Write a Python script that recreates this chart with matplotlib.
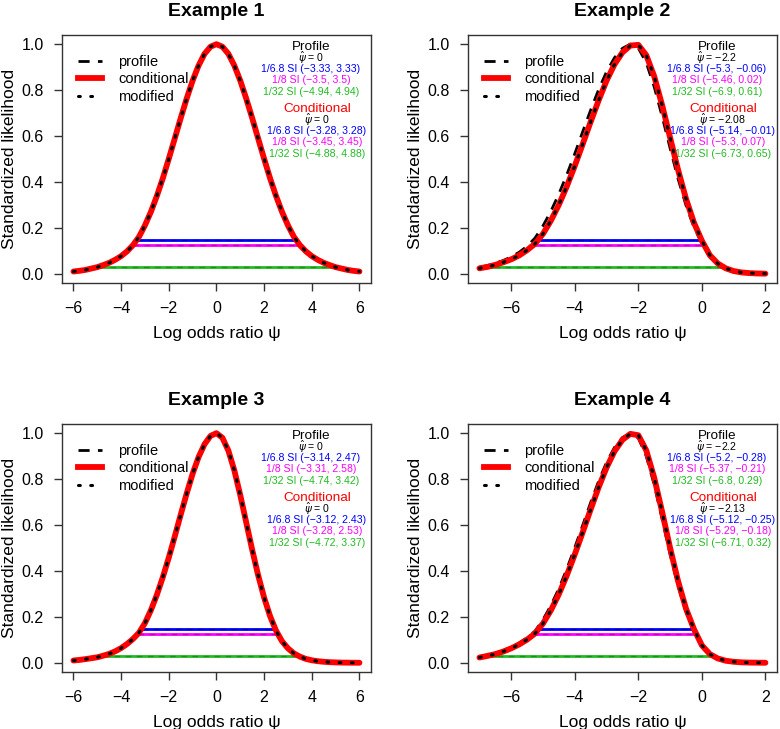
import numpy as np
import matplotlib
matplotlib.use("Agg")
import matplotlib.pyplot as plt
from matplotlib.lines import Line2D

plt.rcParams['font.family'] = ['Liberation Sans', 'DejaVu Sans']

# x grids the curves were read on (step 0.25)
x_sym = np.arange(-6, 6.001, 0.25)
x_neg = np.arange(-7, 2.001, 0.25)

# Example 1 (profile, conditional and modified coincide)
lik1 = [0.010, 0.013, 0.017, 0.023, 0.029, 0.038, 0.048, 0.061, 0.077, 0.098, 0.125, 0.161,
        0.211, 0.270, 0.339, 0.416, 0.501, 0.589, 0.678, 0.763, 0.841, 0.907, 0.958, 0.989,
        1.000,
        0.989, 0.958, 0.907, 0.841, 0.763, 0.678, 0.589, 0.501, 0.416, 0.339, 0.270, 0.211,
        0.161, 0.125, 0.098, 0.077, 0.061, 0.048, 0.038, 0.029, 0.023, 0.017, 0.013, 0.010]

# Example 2
prof2 = [0.028, 0.036, 0.046, 0.058, 0.074, 0.094, 0.120, 0.156, 0.209, 0.273, 0.348, 0.432,
         0.523, 0.619, 0.713, 0.802, 0.880, 0.941, 0.982, 1.000,
         0.983, 0.919, 0.814, 0.685, 0.547, 0.414, 0.298, 0.203, 0.132, 0.073, 0.040, 0.022,
         0.012, 0.006, 0.003, 0.0015, 0.0007]
cond2 = [0.024, 0.030, 0.039, 0.050, 0.063, 0.080, 0.103, 0.131, 0.174, 0.232, 0.301, 0.381,
         0.470, 0.565, 0.662, 0.755, 0.841, 0.912, 0.964, 0.994,
         0.997, 0.952, 0.860, 0.734, 0.593, 0.453, 0.327, 0.223, 0.144, 0.081, 0.045, 0.024,
         0.012, 0.006, 0.003, 0.0015, 0.0007]
mod2 = cond2

# Example 3
lik3 = [0.010, 0.0125, 0.016, 0.020, 0.024, 0.031, 0.039, 0.050, 0.064, 0.082, 0.104, 0.131,
        0.173, 0.229, 0.296, 0.373, 0.458, 0.550, 0.645, 0.737, 0.823, 0.896, 0.952, 0.988,
        1.000,
        0.980, 0.924, 0.838, 0.730, 0.611, 0.492, 0.381, 0.284, 0.203, 0.140, 0.094, 0.063,
        0.041, 0.027, 0.017, 0.011, 0.007, 0.0045, 0.0027, 0.0017, 0.0010, 0.0006, 0.0004, 0.0002]

# Example 4
prof4 = [0.026, 0.033, 0.042, 0.053, 0.068, 0.086, 0.110, 0.138, 0.188, 0.250, 0.324, 0.409,
         0.502, 0.599, 0.698, 0.791, 0.873, 0.938, 0.981, 0.999,
         0.979, 0.900, 0.775, 0.625, 0.472, 0.334, 0.222, 0.135, 0.070, 0.035, 0.017, 0.008,
         0.004, 0.002, 0.001, 0.0005, 0.0002]
cond4 = [0.023, 0.030, 0.038, 0.049, 0.063, 0.080, 0.101, 0.128, 0.171, 0.229, 0.299, 0.381,
         0.472, 0.569, 0.668, 0.764, 0.850, 0.921, 0.971, 0.997,
         0.991, 0.925, 0.806, 0.657, 0.500, 0.356, 0.236, 0.147, 0.076, 0.038, 0.019, 0.009,
         0.0045, 0.002, 0.001, 0.0005, 0.0002]
mod4 = cond4

# support intervals (1/6.8, 1/8, 1/32) and MLEs
si_levels = [1 / 6.8, 1 / 8, 1 / 32]
si_names = ['1/6.8', '1/8', '1/32']
si_colors = ['#0000ff', '#ff00ff', '#22bb22']
si_dark = ['#000080', '#800080', '#116611']

titles = ['Example 1', 'Example 2', 'Example 3', 'Example 4']
prof_mle = ['0', '\u22122.2', '0', '\u22122.2']
cond_mle = ['0', '\u22122.08', '0', '\u22122.13']
prof_si = [[(-3.33, 3.33), (-3.5, 3.5), (-4.94, 4.94)],
           [(-5.3, -0.06), (-5.46, 0.02), (-6.9, 0.61)],
           [(-3.14, 2.47), (-3.31, 2.58), (-4.74, 3.42)],
           [(-5.2, -0.28), (-5.37, -0.21), (-6.8, 0.29)]]
cond_si = [[(-3.28, 3.28), (-3.45, 3.45), (-4.88, 4.88)],
           [(-5.14, -0.01), (-5.3, 0.07), (-6.73, 0.65)],
           [(-3.12, 2.43), (-3.28, 2.53), (-4.72, 3.37)],
           [(-5.12, -0.25), (-5.29, -0.18), (-6.71, 0.32)]]

xs = [x_sym, x_neg, x_sym, x_neg]
profs = [lik1, prof2, lik3, prof4]
conds = [lik1, cond2, lik3, cond4]
mods = [lik1, mod2, lik3, mod4]
xlims = [(-6.48, 6.48), (-7.36, 2.36), (-6.48, 6.48), (-7.36, 2.36)]
xticks = [[-6, -4, -2, 0, 2, 4, 6], [-6, -4, -2, 0, 2], [-6, -4, -2, 0, 2, 4, 6], [-6, -4, -2, 0, 2]]

fig = plt.figure(figsize=(7.8, 7.29), dpi=100)
positions = [[0.0795, 0.6118, 0.396, 0.3402], [0.600, 0.6118, 0.396, 0.3402],
             [0.0795, 0.0782, 0.396, 0.3402], [0.600, 0.0782, 0.396, 0.3402]]


def fmt(v):
    return ('%g' % v).replace('-', '\u2212')


for i in range(4):
    ax = fig.add_axes(positions[i])
    x = xs[i]
    # support interval lines: conditional solid, profile dashed
    for k in range(3):
        lo, hi = cond_si[i][k]
        ax.plot([lo, hi], [si_levels[k]] * 2, color=si_colors[k], lw=2, zorder=1)
        lo, hi = prof_si[i][k]
        ax.plot([lo, hi], [si_levels[k]] * 2, color=si_dark[k], lw=1, ls=(0, (4, 4)), alpha=0.5, zorder=2)
    ax.plot(x, profs[i], color='black', lw=2, ls=(0, (4, 3)), zorder=3)
    ax.plot(x, conds[i], color='red', lw=4.2, solid_capstyle='round', zorder=4)
    ax.plot(x, mods[i], color='black', lw=2.2, ls=(0, (0.6, 3.4)), dash_capstyle='round', zorder=5)

    ax.set_xlim(xlims[i])
    ax.set_ylim(-0.04, 1.04)
    ax.set_xticks(xticks[i])
    ax.set_yticks([0, 0.2, 0.4, 0.6, 0.8, 1.0])
    ax.set_yticklabels(['0.0', '0.2', '0.4', '0.6', '0.8', '1.0'])
    ax.tick_params(direction='out', length=6, width=1, labelsize=11.5, pad=7, color='#333333')
    for s in ax.spines.values():
        s.set_color('#333333')
        s.set_linewidth(1)
    ax.set_title(titles[i], fontsize=14, fontweight='bold', pad=14)
    ax.set_xlabel('Log odds ratio \u03c8', fontsize=12.5, labelpad=7)
    ax.set_ylabel('Standardized likelihood', fontsize=12.5, labelpad=3)

    handles = [Line2D([], [], color='black', lw=2, ls=(0, (4, 3))),
               Line2D([], [], color='red', lw=4.2),
               Line2D([], [], color='black', lw=2.2, ls=(0, (0.6, 3.4)), dash_capstyle='round')]
    ax.legend(handles, ['profile', 'conditional', 'modified'], loc='upper left', frameon=False,
              fontsize=10.5, handlelength=1.65, handletextpad=1.1, labelspacing=0.25,
              borderaxespad=0, bbox_to_anchor=(0.033, 0.944))

    # annotation blocks
    ax.text(0.806, 0.952, 'Profile', transform=ax.transAxes, ha='center', va='center', fontsize=9.7)
    ax.text(0.806, 0.907, r'$\hat{\psi}$ = ' + prof_mle[i], transform=ax.transAxes,
            ha='center', va='center', fontsize=7.6)
    ax.text(0.825, 0.702, 'Conditional', transform=ax.transAxes, ha='center', va='center',
            fontsize=9.7, color='red')
    ax.text(0.825, 0.657, r'$\hat{\psi}$ = ' + cond_mle[i], transform=ax.transAxes,
            ha='center', va='center', fontsize=7.6)
    for k in range(3):
        lo, hi = prof_si[i][k]
        ax.text(0.806, 0.863 - 0.046 * k, '%s SI (%s, %s)' % (si_names[k], fmt(lo), fmt(hi)),
                transform=ax.transAxes, ha='center', va='center', fontsize=7.6, color=si_colors[k])
        lo, hi = cond_si[i][k]
        ax.text(0.825, 0.613 - 0.046 * k, '%s SI (%s, %s)' % (si_names[k], fmt(lo), fmt(hi)),
                transform=ax.transAxes, ha='center', va='center', fontsize=7.6, color=si_colors[k])

plt.savefig('out.png', dpi=100)
